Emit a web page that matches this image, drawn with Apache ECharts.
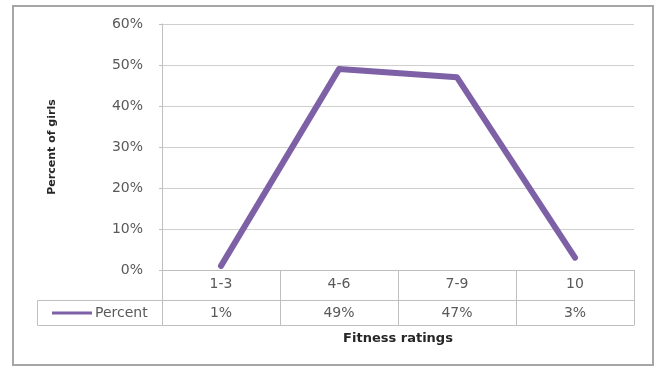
<!DOCTYPE html>
<html>
<head>
<meta charset="utf-8">
<script src="https://cdn.jsdelivr.net/npm/echarts@6/dist/echarts.min.js"></script>
<style>html,body{margin:0;padding:0;background:#fff;}#c{width:655px;height:366px;}</style>
</head>
<body>
<div id="c"></div>
<script>
var categories = ['1-3', '4-6', '7-9', '10'];
var percentValues = [1, 49, 47, 3];
var yTicks = [0, 10, 20, 30, 40, 50, 60];
var seriesName = 'Percent';

var chart = echarts.init(document.getElementById('c'));
var F = 'DejaVu Sans';
var txt = '#595959';
var border = '#bfbfbf';
var purple = '#7d60a6';

chart.setOption({
  animation: false,
  backgroundColor: '#fff',
  textStyle: { fontFamily: F },
  grid: { left: 162, right: 21, top: 24, bottom: 96, containLabel: false },
  legend: {
    data: [{ name: seriesName, icon: 'rect' }],
    left: 52, top: 306, padding: 0,
    itemWidth: 40, itemHeight: 3,
    textStyle: { fontFamily: F, fontSize: 14, color: txt, padding: [0, 0, 0, -2] }
  },
  xAxis: [
    {
      type: 'category', data: categories, position: 'bottom', boundaryGap: true,
      axisLine: { lineStyle: { color: border, width: 1 } },
      axisTick: { show: true, interval: 0, length: 55, lineStyle: { color: border } },
      axisLabel: { interval: 0, margin: 7, fontSize: 14, color: txt, fontFamily: F }
    },
    {
      type: 'category', data: percentValues.map(function (v) { return v + '%'; }),
      position: 'bottom', offset: 30, boundaryGap: true,
      axisLine: { lineStyle: { color: border, width: 1 } },
      axisTick: { show: false },
      axisLabel: { interval: 0, margin: 6, fontSize: 14, color: txt, fontFamily: F }
    },
    {
      type: 'category', data: categories, position: 'bottom', offset: 55, boundaryGap: true,
      axisLine: { lineStyle: { color: border, width: 1 } },
      axisTick: { show: false },
      axisLabel: { show: false },
      name: 'Fitness ratings', nameLocation: 'middle', nameGap: 7,
      nameTextStyle: { fontFamily: F, fontSize: 13, fontWeight: 'bold', color: '#262626', verticalAlign: 'top' }
    }
  ],
  yAxis: {
    type: 'value', min: yTicks[0], max: yTicks[yTicks.length - 1], interval: 10,
    axisLine: { show: true, lineStyle: { color: border } },
    axisTick: { show: true, length: 3, lineStyle: { color: border } },
    axisLabel: { formatter: '{value}%', margin: 19, fontSize: 14, color: txt, fontFamily: F },
    splitLine: { lineStyle: { color: '#cfcfcf', width: 1 } },
    name: 'Percent of girls', nameLocation: 'middle', nameGap: 104,
    nameTextStyle: { fontFamily: F, fontSize: 11, fontWeight: 'bold', color: '#262626' }
  },
  graphic: [
    { type: 'rect', shape: { x: 13, y: 6, width: 640, height: 359 }, style: { fill: null, stroke: '#a6a6a6', lineWidth: 2 }, silent: true, z: -1 },
    { type: 'rect', shape: { x: 37.5, y: 300.5, width: 125, height: 25 }, style: { fill: null, stroke: border, lineWidth: 1 }, silent: true }
  ],
  series: [{
    name: seriesName, type: 'line', xAxisIndex: 0,
    data: percentValues, symbol: 'none',
    lineStyle: { color: purple, width: 6, cap: 'round', join: 'round' },
    itemStyle: { color: purple }
  }]
});
</script>
</body>
</html>
